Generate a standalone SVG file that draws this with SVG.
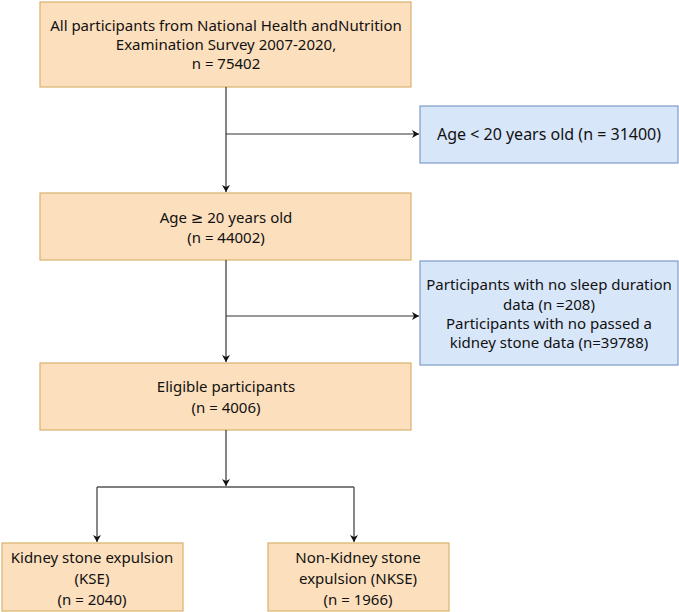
<svg xmlns="http://www.w3.org/2000/svg" width="679" height="612" viewBox="0 0 679 612">
<style>
.o{fill:#fcdfbd;stroke:#d9b26c;stroke-width:1.2}
.b{fill:#d8e6fa;stroke:#7d9bc6;stroke-width:1.2}
text{font-family:"Noto Sans","DejaVu Sans",sans-serif;font-size:15px;fill:#111;text-anchor:middle}
.c{fill:none;stroke:#333;stroke-width:1.2}
.g{fill:none;stroke:#555;stroke-width:1.4}
</style>
<defs>
<marker id="a" markerWidth="8" markerHeight="8" refX="7" refY="4" orient="auto" markerUnits="userSpaceOnUse">
<path d="M0,0 L7,4 L0,8 L2,4 Z" fill="#111"/>
</marker>
</defs>
<g id="n1"><rect class="o" x="40" y="2" width="371" height="85"/>
<text x="226" y="31">All participants from National Health andNutrition</text>
<text x="226" y="50">Examination Survey 2007-2020,</text>
<text x="226" y="69">n = 75402</text></g>
<g id="n2"><rect class="b" x="420" y="106" width="258" height="57"/>
<text x="549" y="140" style="font-size:16px">Age &lt; 20 years old (n = 31400)</text></g>
<g id="n3"><rect class="o" x="40" y="193" width="371" height="67"/>
<text x="226" y="223">Age ≥ 20 years old</text>
<text x="226" y="243">(n = 44002)</text></g>
<g id="n4"><rect class="b" x="420" y="261" width="258" height="104"/>
<text x="549" y="290">Participants with no sleep duration</text>
<text x="549" y="310">data (n =208)</text>
<text x="549" y="329">Participants with no passed a</text>
<text x="549" y="348">kidney stone data (n=39788)</text></g>
<g id="n5"><rect class="o" x="40" y="363" width="371" height="67"/>
<text x="226" y="392">Eligible participants</text>
<text x="226" y="413">(n = 4006)</text></g>
<g id="n6"><rect class="o" x="2" y="543" width="181" height="68"/>
<text x="92" y="563">Kidney stone expulsion</text>
<text x="92" y="584">(KSE)</text>
<text x="92" y="605">(n = 2040)</text></g>
<g id="n7"><rect class="o" x="268" y="543" width="181" height="68"/>
<text x="358" y="563">Non-Kidney stone</text>
<text x="358" y="584">expulsion (NKSE)</text>
<text x="358" y="605">(n = 1966)</text></g>
<g id="connectors">
<path class="c" d="M226,87 V192" marker-end="url(#a)"/>
<path class="c" d="M226,134 H419" marker-end="url(#a)"/>
<path class="c" d="M226,260 V362" marker-end="url(#a)"/>
<path class="c" d="M226,316 H419" marker-end="url(#a)"/>
<path class="c" d="M226,430 V486" marker-end="url(#a)"/>
<path class="g" d="M97,487 H354"/>
<path class="g" d="M97,487 V542" marker-end="url(#a)"/>
<path class="g" d="M354,487 V542" marker-end="url(#a)"/>
</g>
</svg>
